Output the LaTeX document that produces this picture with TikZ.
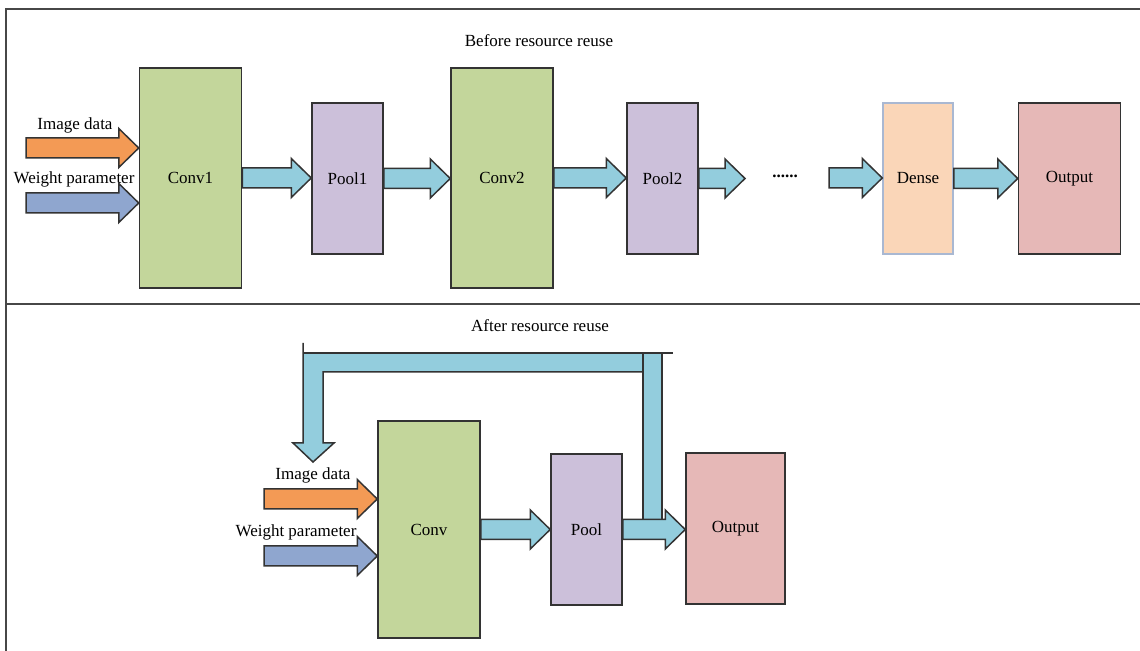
\documentclass[tikz,border=0pt]{standalone}
\usepackage{fontspec}
\setmainfont{Liberation Serif}
\usetikzlibrary{calc}

\definecolor{convgreen}{HTML}{C3D69B}
\definecolor{poolpurple}{HTML}{CCC0DA}
\definecolor{densepeach}{HTML}{FAD6B8}
\definecolor{denseedge}{HTML}{A9B8D2}
\definecolor{outpink}{HTML}{E6B8B7}
\definecolor{flowaqua}{HTML}{93CDDD}
\definecolor{imgorange}{HTML}{F39A55}
\definecolor{weightblue}{HTML}{8FA6CF}
\definecolor{edgegray}{HTML}{333333}

% fat horizontal arrow from #1 to the x of #2, filled with #3
\newcommand{\flowarrow}[3]{%
  \draw[blockarrow, fill=#3] let \p1=(#1), \p2=(#2) in
    (\x1,{\y1+5pt}) -- ({\x2-10pt},{\y1+5pt}) -- ({\x2-10pt},{\y1+9.75pt})
    -- (\x2,\y1) -- ({\x2-10pt},{\y1-9.75pt}) -- ({\x2-10pt},{\y1-5pt})
    -- (\x1,{\y1-5pt}) -- cycle;}

\begin{document}
\begin{tikzpicture}[
    x=0.5pt, y=-0.5pt,
    every node/.style={font=\fontsize{8.5}{10}\selectfont},
    layerbox/.style={draw=edgegray, line width=0.75pt, inner sep=0pt},
    bigbox/.style={layerbox, fill=convgreen, minimum width=51pt, minimum height=110pt},
    poolbox/.style={layerbox, fill=poolpurple, minimum width=35.5pt, minimum height=75.5pt},
    outbox/.style={layerbox, fill=outpink, minimum width=51pt, minimum height=75.5pt},
    blockarrow/.style={draw=edgegray, line width=0.75pt, line join=miter},
    frameline/.style={draw=edgegray!90, line width=0.9pt},
]
\useasboundingbox (0,0) rectangle (1140,651);

% frame
\draw[frameline] (6,651) -- (6,9) -- (1140,9);
\draw[frameline] (6,304) -- (1140,304);

% before resource reuse
\node (title1) at (539,41) {Before resource reuse};

\node[bigbox] (conv1) at (190.5,178) {Conv1};
\node[poolbox] (pool1) at (347.5,178.5) {Pool1};
\node[bigbox] (conv2) at (502,178) {Conv2};
\node[poolbox] (pool2) at (662.5,178.5) {Pool2};
\node[layerbox, draw=denseedge, fill=densepeach, minimum width=35pt,
      minimum height=75.5pt] (dense) at (918,178.5) {Dense};
\node[outbox] (out1) at (1069.5,178.5) {Output};
\node (dots) at (785,176) {\textbf{......}};

\node (imglab1) at (75,125) {Image data};
\node (wlab1) at (74,179) {Weight parameter};
\coordinate (imgin1) at (26,148);
\coordinate (win1) at (26,203);
\coordinate (gap1) at (745,178);
\coordinate (gap2) at (829,178);

\flowarrow{imgin1}{conv1.west |- imgin1}{imgorange}
\flowarrow{win1}{conv1.west |- win1}{weightblue}
\flowarrow{conv1.east}{pool1.west}{flowaqua}
\flowarrow{pool1.east}{conv2.west}{flowaqua}
\flowarrow{conv2.east}{pool2.west}{flowaqua}
\flowarrow{pool2.east}{gap1}{flowaqua}
\flowarrow{gap2}{dense.west}{flowaqua}
\flowarrow{dense.east}{out1.west}{flowaqua}

% after resource reuse
\node (title2) at (540,326) {After resource reuse};

\node[bigbox, minimum height=108.5pt] (conv) at (429,529.5) {Conv};
\node[poolbox] (pool) at (586.5,529.5) {Pool};
\node[outbox, minimum width=49.5pt] (out2) at (735.5,528.5) {Output};

\node (imglab2) at (313,475) {Image data};
\node (wlab2) at (296,532) {Weight parameter};
\coordinate (imgin2) at (264,499);
\coordinate (win2) at (264,556);

% feedback path back to the input
\coordinate (fbtop) at (673,353);
\coordinate (fbend) at (313,462);
\fill[flowaqua] (303,353) -- (662,353) -- (662,522) -- (643,522) -- (643,372)
  -- (323,372) -- (323,443) -- (334,443) -- (fbend) -- (293,443) -- (303,443) -- cycle;
\draw[blockarrow] (303,343) -- (303,443) -- (293,443) -- (fbend) -- (334,443)
  -- (323,443) -- (323,372) -- (643,372);
\draw[blockarrow] (303,353) -- (fbtop);
\draw[blockarrow] (643,353) -- (643,522);
\draw[blockarrow] (662,353) -- (662,522);

\flowarrow{imgin2}{conv.west |- imgin2}{imgorange}
\flowarrow{win2}{conv.west |- win2}{weightblue}
\flowarrow{conv.east}{pool.west}{flowaqua}
\flowarrow{pool.east}{out2.west}{flowaqua}
\end{tikzpicture}
\end{document}
